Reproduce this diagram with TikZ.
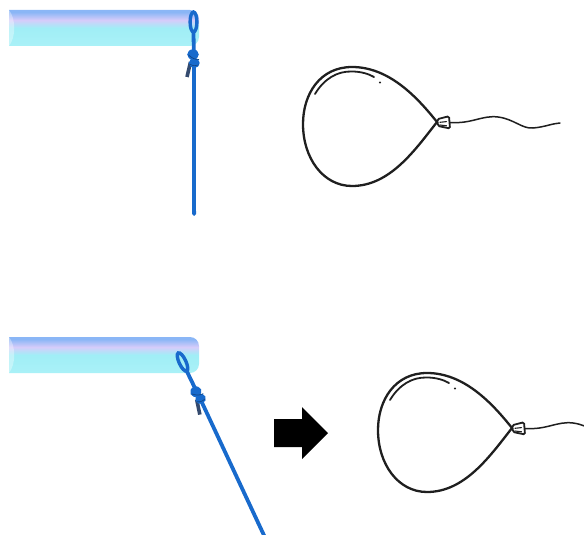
\documentclass[tikz,border=0pt]{standalone}
\definecolor{rodT}{RGB}{138,182,246}
\definecolor{rodL}{RGB}{214,204,250}
\definecolor{rodC}{RGB}{160,238,246}
\definecolor{rodB}{RGB}{170,241,247}
\definecolor{ropeblue}{RGB}{24,106,204}
\definecolor{ropetail}{RGB}{52,74,110}
\pgfdeclareverticalshading{rodshade}{100bp}{color(0bp)=(rodB); color(25bp)=(rodB); color(50bp)=(rodC); color(61bp)=(rodL); color(72bp)=(rodT); color(100bp)=(rodT)}
\tikzset{
  cord/.style={draw=ropeblue, line width=3.8pt, line cap=round},
  outline/.style={draw=black!88, line width=2.3pt, line cap=round, line join=round},
  thin/.style={draw=black!88, line width=1.5pt, line cap=round},
  rodpic/.pic={
    \begin{scope}
      \clip (0,-5) rectangle (200,45);
      \shade[shading=rodshade, rounded corners=9] (-20,0) rectangle (190,36);
    \end{scope}
    \fill[white, opacity=.35] (0,0) .. controls (7,9) and (7,27) .. (0,36) -- cycle;
  },
  ropepic/.pic={
    \draw[cord] (0,10) -- (0.3,30);
    \draw[cord, line width=3.4pt] (0,0) ellipse (3.4 and 10);
    \draw[ropetail, line width=3.6pt] (-3,40) -- (-6.5,55);
    \draw[cord] (0.5,36) -- (0.6,192);
    \fill[ropeblue] (-0.5,32.5) ellipse (5.8 and 5.2);
    \fill[ropeblue] (0.8,41) ellipse (5.4 and 5);
    \draw[ropeblue!65!black, line width=.7pt] (-5,33) .. controls (0,37) .. (5.5,37.5);
    \draw[ropeblue!65!black, line width=.6pt] (-4,42) .. controls (0,44) .. (5,43);
  },
  balloonpic/.pic={
    % body, drawn from the neck round to the neck
    \draw[outline] (0,0) .. controls (-20,-25) and (-48,-55) .. (-85,-55)
      .. controls (-117,-55) and (-134,-28) .. (-134,2)
      .. controls (-134,36) and (-114,64) .. (-85,64)
      .. controls (-47,64) and (-22,28) .. (0,0);
    % gloss line and dot
    \draw[thin, line width=1.8pt] (-122,-28) .. controls (-113,-43) and (-100,-51) .. (-85,-50.5)
      .. controls (-76,-50.5) and (-68,-48) .. (-63,-45);
    \fill[black!88] (-57,-39.5) circle (1.1);
    % tied neck
    \draw[thin, line width=1.8pt, fill=white, rounded corners=1.5] (0.3,-2.8) -- (12,-5.8) -- (13,6.5) -- (1,4) -- cycle;
    \draw[thin, line width=1.1pt] (3,0.3) -- (9.5,-0.4);
    \draw[thin, line width=1.1pt] (3,3) -- (9.5,3.8);
    % string
    \draw[thin] (13,0.5) .. controls (35,2) and (45,-7) .. (61,-5)
      .. controls (77,-3) and (85,7) .. (96,6)
      .. controls (108,5) and (115,1.5) .. (123,1);
  }
}
\begin{document}
\begin{tikzpicture}[x=1pt, y=-1pt]
  \useasboundingbox (0,0) rectangle (584,535);
  % upper row: rope hangs straight down, balloon beside it
  \pic at (9,10) {rodpic};
  \pic at (193.5,22) {ropepic};
  \pic at (437,122) {balloonpic};
  % lower row: rope pulled aside, arrow towards the balloon
  \pic at (9,337) {rodpic};
  \pic[rotate=25] at (182.5,362) {ropepic};
  \fill[black] (274,419) -- (302,419) -- (302,407) -- (328,433) -- (302,459)
    -- (302,447) -- (274,447) -- cycle;
  \pic at (512,428) {balloonpic};
\end{tikzpicture}
\end{document}
